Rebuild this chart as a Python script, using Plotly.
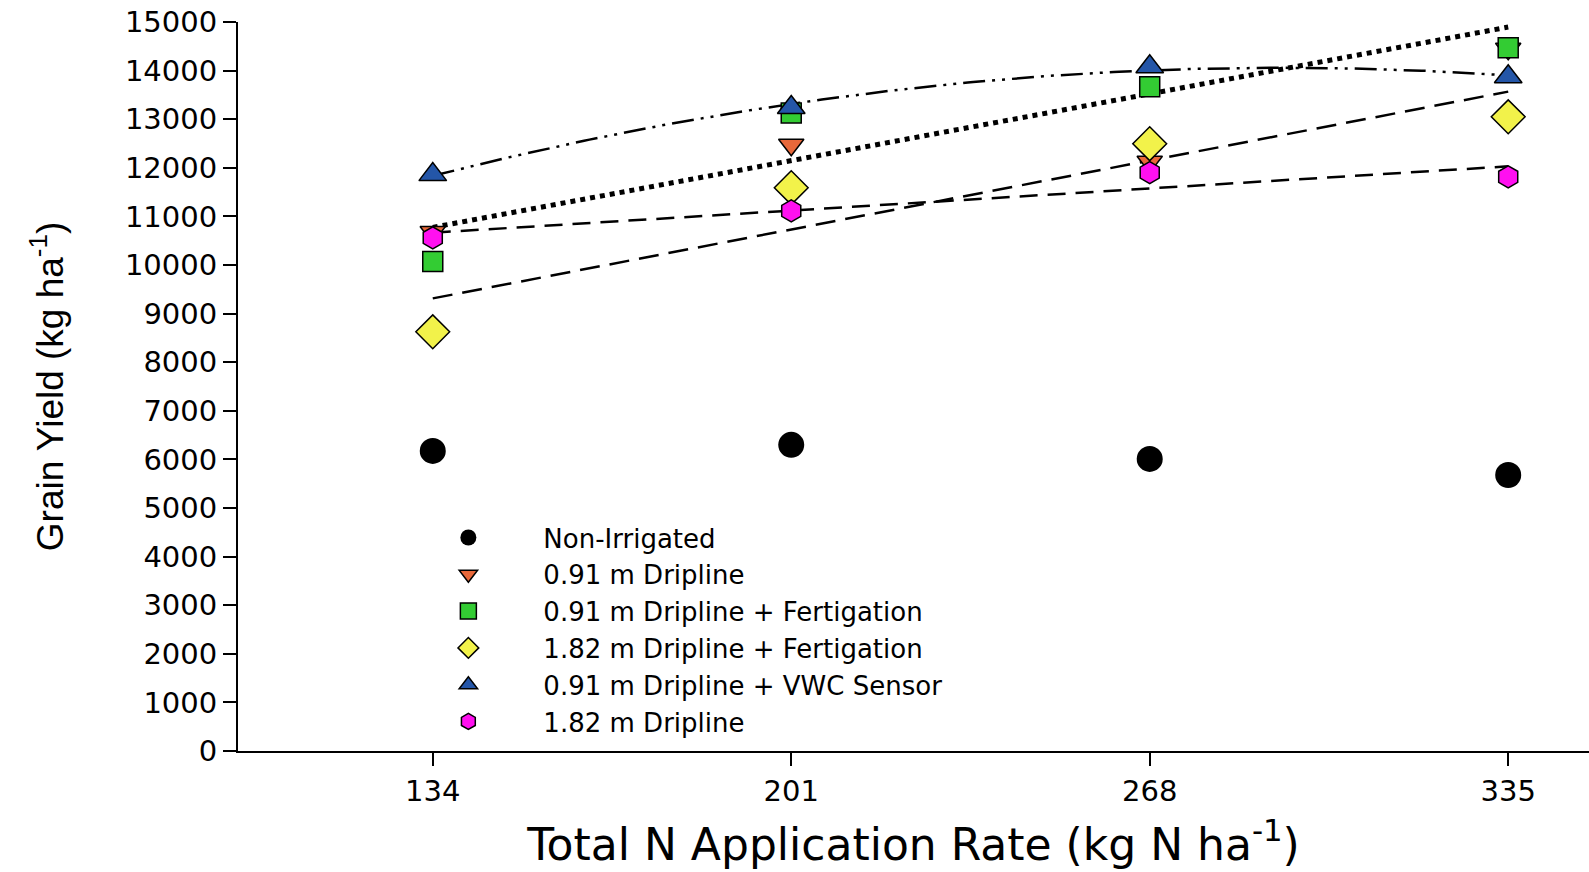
import numpy as np
import plotly.graph_objects as go

n_rate = [134, 201, 268, 335]
x_ticks = [134, 201, 268, 335]
y_ticks = list(range(0, 15001, 1000))
y_tick_labels = [str(v) for v in y_ticks]

non_irrigated = [6175, 6300, 6010, 5680]
drip_091 = [10680, 12475, 12125, 14450]
drip_091_fert = [10070, 13130, 13670, 14470]
drip_182_fert = [8625, 11590, 12495, 13050]
drip_091_vwc = [11860, 13240, 14080, 13875]
drip_182 = [10560, 11115, 11900, 11815]

series = [
    ("Non-Irrigated", non_irrigated, "circle", "#000000", 26),
    ("0.91 m Dripline", drip_091, "triangle-down", "#E8683A", 22),
    ("0.91 m Dripline + Fertigation", drip_091_fert, "square", "#33CC33", 20),
    ("1.82 m Dripline + Fertigation", drip_182_fert, "diamond", "#F2F24A", 26),
    ("0.91 m Dripline + VWC Sensor", drip_091_vwc, "triangle-up", "#2456A8", 24),
    ("1.82 m Dripline", drip_182, "hexagon", "#FF10F0", 22),
]

# regression fits (computed from data)
fits = [
    (drip_091_fert, 1, "dot", 5),
    (drip_182_fert, 1, "20px,10px", 2.5),
    (drip_091_vwc, 2, "22px,7px,3px,7px,3px,7px", 2.5),
    (drip_182, 1, "18px,10px", 2.5),
]

fig = go.Figure()
xs = np.linspace(n_rate[0], n_rate[-1], 200)
for vals, deg, dash, w in fits:
    coef = np.polyfit(n_rate, vals, deg)
    fig.add_trace(go.Scatter(x=xs, y=np.polyval(coef, xs), mode="lines",
                             line=dict(color="black", dash=dash, width=w),
                             showlegend=False, hoverinfo="skip"))

for name, vals, sym, col, size in series:
    fig.add_trace(go.Scatter(
        x=n_rate, y=vals, mode="markers", name=name,
        marker=dict(symbol=sym, color=col, size=size,
                    line=dict(color="black", width=1.5 if sym != "circle" else 0)),
        cliponaxis=False))

fig.update_layout(
    width=1589, height=872,
    margin=dict(l=238, r=0, t=22, b=121),
    paper_bgcolor="white", plot_bgcolor="white",
    font=dict(family="DejaVu Sans", color="black", size=29),
    xaxis=dict(range=[97.6, 350.1], tickvals=x_ticks, ticktext=[str(v) for v in x_ticks],
               showline=True, linecolor="black", linewidth=2,
               ticks="outside", ticklen=13, tickwidth=2, tickcolor="black",
               showgrid=False, zeroline=False, tickfont=dict(size=29),
               title=dict(text="Total N Application Rate (kg N ha<sup>-1</sup>)",
                          font=dict(size=44), standoff=22)),
    yaxis=dict(range=[0, 15000], tickvals=y_ticks, ticktext=y_tick_labels,
               showline=True, linecolor="black", linewidth=2,
               ticks="outside", ticklen=13, tickwidth=2, tickcolor="black",
               showgrid=False, zeroline=False, tickfont=dict(size=29),
               title=dict(text="Grain Yield (kg ha<sup>-1</sup>)",
                          font=dict(size=37, family="Liberation Sans"), standoff=50)),
    legend=dict(x=0.115, y=0.325, xanchor="left", yanchor="top",
                bgcolor="rgba(0,0,0,0)", itemwidth=140,
                font=dict(size=26, family="DejaVu Sans")),
)

fig.write_html("out.html")
